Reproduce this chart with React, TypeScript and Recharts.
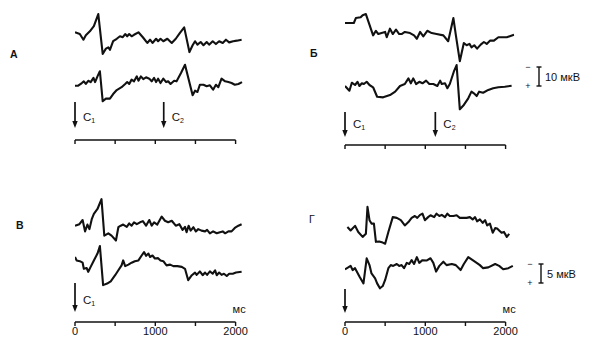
import { LineChart, Line, XAxis, YAxis, ReferenceLine } from "recharts";

// traces: [time, мс ; amplitude, мкВ (up = +)]
const traceATop: [number, number][] = [
  [0, 0], [60, -0.9], [105, -3.9], [135, -1.6], [185, 0.5], [235, 3.2], [290, 9.6], [345, -11.4],
  [385, -8.6], [415, -7.9], [435, -9.2], [475, -4.7], [520, -3.4], [560, -2.1], [595, -2.6], [625, -0.9],
  [650, -2.1], [675, -0.9], [705, -2.1], [735, -1.3], [790, 0], [845, -2.6], [900, -5.6], [935, -3.9],
  [965, -5.6], [1010, -3.4], [1035, -4.7], [1065, -3.4], [1100, -4.7], [1150, -3.4], [1205, -5.6],
  [1255, -3.4], [1305, -0.4], [1360, 2.6], [1425, -10.4], [1465, -6.8], [1495, -4.7], [1525, -6.5],
  [1565, -5.1], [1600, -6.8], [1640, -5.1], [1670, -6.5], [1715, -4.7], [1755, -6.2], [1795, -4.7],
  [1840, -5.6], [1880, -3.9], [1920, -5.3], [1970, -4.7], [2015, -4.4], [2075, -3.9],
];
const traceABot: [number, number][] = [
  [0, 0], [40, 0], [85, 1.4], [110, 2.3], [135, 0.9], [165, 2.6], [195, 1.9], [230, 4.1], [250, 1.9],
  [280, 4.9], [310, 7.6], [345, -8.2], [385, -6.8], [435, -6.8], [475, -4.4], [520, -2.3], [580, -0.8],
  [625, 0.9], [650, 1.9], [675, 0.9], [705, 3.2], [735, 2.3], [770, 4.9], [790, 2.6], [820, 4.9],
  [850, 3.5], [885, 4.4], [925, 3.7], [955, 2.3], [985, 4.1], [1010, 1.9], [1035, 3.7], [1065, 1.4],
  [1100, 3.7], [1135, 1.9], [1160, 2.3], [1190, 0.9], [1235, 2.6], [1265, 2.3], [1320, 6.7], [1370, 11],
  [1465, -5], [1495, -2.6], [1525, -3.3], [1555, 0.5], [1600, 0.5], [1640, -0.3], [1680, 0.2],
  [1720, -2.1], [1755, 0.5], [1785, -0.8], [1825, 3.7], [1870, 2.3], [1910, 1.9], [1950, 1.4],
  [1990, 0.5], [2035, 0.9], [2080, 1.9],
];
const traceBTop: [number, number][] = [
  [0, 0], [110, 0], [135, 2.6], [195, 3], [220, 4.1], [260, 4.7], [350, -6.5], [385, -4.1], [415, -5.8],
  [455, -5.3], [500, -4.7], [520, -7.5], [560, -3], [595, -5.8], [635, -3.5], [675, -5.8], [705, -5.8],
  [745, -4.7], [810, -5.3], [860, -6.5], [895, -8.3], [935, -4.7], [975, -7], [1025, -4.1], [1080, -5.3],
  [1140, -5.8], [1225, -6.5], [1285, -9.6], [1350, 2.6], [1380, -6.2], [1430, -20.1], [1480, -10.5],
  [1515, -11.7], [1550, -11], [1575, -12.8], [1610, -11.7], [1645, -13.5], [1690, -11.4], [1730, -10],
  [1765, -11], [1805, -9.3], [1855, -9.3], [1910, -7.5], [2015, -7.5], [2105, -6.2],
];
const traceBBot: [number, number][] = [
  [0, -0.5], [55, -3], [85, 1.2], [125, 0], [155, 1.7], [180, -0.5], [210, 0.9], [235, 0.5], [270, 1.7],
  [305, 0], [350, -1.2], [400, -6.2], [475, -6.5], [560, -5.3], [625, -3.5], [685, -0.5], [745, 0.5],
  [790, 3.5], [820, 0.9], [850, 3.5], [885, 0.5], [925, 1.7], [965, 0.9], [1010, 2.3], [1050, 0.5],
  [1100, 0.5], [1150, -0.5], [1185, 2.3], [1205, 0.5], [1245, 0.9], [1275, -1.7], [1305, 0.5],
  [1355, 7], [1390, 10.5], [1430, -12.8], [1480, -10.5], [1535, -7], [1575, -3.5], [1605, -4.4],
  [1640, -5.8], [1670, -3.5], [1720, -4.1], [1785, -2.6], [1845, -1.7], [1910, -1.2], [1990, -0.9],
  [2075, -0.4],
];
const traceVTop: [number, number][] = [
  [0, 0], [55, 0.4], [95, 1.5], [125, -1.5], [155, 0.3], [180, -0.9], [210, 1.8], [235, 3.1], [280, 4.4],
  [330, 7], [365, -2.6], [415, -2], [455, -2.6], [510, -3.9], [540, -0.4], [570, 0], [600, 0.3],
  [645, -0.3], [675, 0.6], [705, 0], [735, 0.9], [770, 0.4], [810, 0.9], [845, 1.2], [885, 0], [925, 1.5],
  [955, 0], [985, 0.9], [1025, 0.3], [1080, 2.4], [1120, 1.3], [1160, 0.9], [1205, 1.3], [1255, 0],
  [1300, 0.4], [1340, -1.1], [1370, -0.3], [1390, -1.7], [1415, 0], [1440, -1.3], [1475, -0.4],
  [1505, -1.5], [1535, -0.9], [1575, -1.3], [1620, -1.5], [1645, -1.1], [1680, -2], [1720, -1.5],
  [1765, -2], [1805, -1.7], [1840, -1.5], [1870, -2], [1910, -1.5], [1950, -1.5], [1990, -0.6],
  [2035, 0], [2075, 0.4],
];
const traceVBot: [number, number][] = [
  [0, 0], [20, -0.9], [60, -1.1], [95, -1.5], [110, -3.1], [145, -2.9], [165, -3.9], [195, -2.6],
  [235, -0.9], [280, 0.9], [310, 2.9], [350, -7.4], [400, -7], [445, -6.4], [500, -4.8], [540, -3.5],
  [580, -2.2], [600, -0.9], [625, -2.4], [665, -2], [705, -1.5], [745, -1.1], [790, -0.9], [830, 0.4],
  [860, 1.3], [885, 0.3], [915, 0.9], [935, 0], [965, 0.4], [995, -0.4], [1035, -0.3], [1065, -0.9],
  [1100, -1.1], [1140, -2.2], [1185, -2], [1225, -2.4], [1275, -2.4], [1330, -2.6], [1370, -3.1],
  [1410, -6.1], [1455, -4.8], [1495, -4.1], [1515, -4.7], [1555, -3.8], [1590, -4.8], [1620, -4.1],
  [1645, -4.7], [1680, -3.8], [1715, -4.4], [1745, -3.5], [1765, -4.8], [1795, -4.1], [1825, -4.7],
  [1855, -4.4], [1890, -5], [1920, -4.4], [1965, -4.4], [2005, -4.1], [2075, -3.9],
];
const traceGTop: [number, number][] = [
  [30, 0], [70, -0.9], [125, 0.3], [165, -1.3], [220, -2.6], [260, -1.8], [280, 5.3], [305, 1.8],
  [330, 0.9], [360, 0.9], [385, -3.9], [425, -3.8], [470, -4.1], [500, -4.4], [540, -1.3], [595, 2.6],
  [645, 2.4], [695, 1.8], [745, 0.4], [790, 1.3], [830, 2.4], [870, 2.9], [900, 2.4], [935, 3.2],
  [965, 3.5], [995, 1.8], [1035, 2.6], [1065, 3.1], [1110, 2.6], [1140, 3.5], [1175, 2.9], [1205, 3.2],
  [1245, 2.6], [1275, 3.5], [1305, 2.9], [1350, 2.9], [1390, 3.1], [1430, 2.4], [1475, 2.4], [1515, 2.4],
  [1555, 2.6], [1590, 2], [1620, 2.6], [1645, 1.5], [1680, 2], [1715, 1.1], [1745, 1.8], [1770, 0.4],
  [1805, 0.9], [1840, -1.5], [1870, -0.3], [1895, -0.4], [1920, -0.9], [1950, -1.5], [1980, -1.3],
  [2015, -2.6], [2045, -1.8],
];
const traceGBot: [number, number][] = [
  [0, 0], [40, 0.5], [70, 0.9], [95, -0.2], [125, 0.3], [155, -0.9], [185, -2.1], [230, -3.7], [270, 2.9],
  [305, 1.1], [330, -1.1], [375, -2.4], [400, -3.7], [435, -5], [470, -4.4], [500, -2.8], [540, 0.3],
  [570, 1.1], [600, 0.9], [645, 1.4], [675, 0.9], [705, 1.1], [735, 0.3], [770, 1.7], [800, 1.4],
  [830, 2.4], [860, 1.4], [895, 3.2], [925, 1.7], [965, 2.4], [1015, 2.3], [1065, 2.9], [1100, 1.7],
  [1135, -0.6], [1175, 0.9], [1225, 2], [1265, 1.1], [1330, 1.4], [1380, 1.1], [1440, -0.2], [1480, 1.4],
  [1535, 3.2], [1590, 2.4], [1640, 1.7], [1680, 1.1], [1720, 0.3], [1785, 0.5], [1870, 1.4], [1920, 0.9],
  [1970, 0], [2035, 0.3], [2090, 0.9],
];

const tickTimes = [0, 500, 1000, 1500, 2000];
const labelledTicks = [0, 1000, 2000];
const stimA = [0, 1105];
const stimB = [0, 1125];
const stimV = [0];
const stimG = [0];
const stimNames = ["1", "2"];
const scaleA = 10; // мкВ
const scaleV = 5; // мкВ

const FONT = '"Liberation Sans", Arial, Helvetica, sans-serif';
const INK = "#111";
const MS_PX = 0.0803;
const T_MAX = 2110;

const rows = (tr: [number, number][]) => tr.map(([t, v]) => ({ t, v }));

type PanelProps = {
  x0: number; top: number; axisY: number; k: number; yUp: number; yLo: number;
  upper: [number, number][]; lower: [number, number][];
  stim: number[]; named: boolean; arrow: [number, number]; labelDy: number; numbered: boolean;
};

function Panel(p: PanelProps) {
  const ML = 10, MR = 10, MT = 4;
  const axisH = p.numbered ? 20 : 8;
  const width = ML + MR + T_MAX * MS_PX;
  const height = p.axisY - p.top + axisH;
  const T = p.top + MT;
  const dom = (yb: number): [number, number] => [-(p.axisY - yb) / p.k, (yb - T) / p.k];
  const lo = dom(p.yLo);

  const arrowShape = (i: number) => (s: any) => {
    const x = s.x1;
    const yb = Math.max(s.y1, s.y2);
    const tail = yb - p.arrow[0];
    const tip = yb - p.arrow[1];
    return (
      <g>
        <line x1={x} y1={tail} x2={x} y2={tip - 5} stroke={INK} strokeWidth={1.7} />
        <polygon points={`${x - 2.7},${tip - 7} ${x + 2.7},${tip - 7} ${x},${tip}`} fill={INK} />
        {p.named && (
          <text x={x + 8} y={tip - p.labelDy} fontSize={11.5} fontFamily={FONT} fill={INK}>
            С<tspan fontSize={7} dy={2.5}>{stimNames[i]}</tspan>
          </text>
        )}
      </g>
    );
  };

  return (
    <div style={{ position: "absolute", left: p.x0 - ML, top: p.top }}>
      <LineChart width={width} height={height} margin={{ top: MT, right: MR, left: ML, bottom: 0 }}>
        <XAxis
          dataKey="t" type="number" domain={[0, T_MAX]} allowDataOverflow ticks={tickTimes} interval={0}
          axisLine={false} tickSize={4} tickMargin={1} height={axisH}
          tickLine={{ stroke: INK, strokeWidth: 1.4 }}
          tick={{ fontSize: 11, fill: INK, fontFamily: FONT }}
          tickFormatter={(v: number) => (p.numbered && labelledTicks.includes(v) ? String(v) : "")}
        />
        <YAxis yAxisId="up" hide type="number" domain={dom(p.yUp)} allowDataOverflow />
        <YAxis yAxisId="lo" hide type="number" domain={lo} allowDataOverflow />
        <ReferenceLine
          yAxisId="lo" segment={[{ x: 0, y: lo[0] }, { x: 2000, y: lo[0] }]}
          stroke={INK} strokeWidth={1.7}
        />
        <Line data={rows(p.upper)} dataKey="v" yAxisId="up" type="linear" dot={false}
          stroke={INK} strokeWidth={2.1} strokeLinejoin="round" isAnimationActive={false} />
        <Line data={rows(p.lower)} dataKey="v" yAxisId="lo" type="linear" dot={false}
          stroke={INK} strokeWidth={2.1} strokeLinejoin="round" isAnimationActive={false} />
        {p.stim.map((t, i) => (
          <ReferenceLine key={i} x={t} yAxisId="lo" shape={arrowShape(i)} />
        ))}
      </LineChart>
    </div>
  );
}

function ScaleBar({ x, yTop, h, label }: { x: number; yTop: number; h: number; label: string }) {
  return (
    <g>
      <line x1={x} y1={yTop} x2={x} y2={yTop + h} stroke={INK} strokeWidth={1.4} />
      <line x1={x - 2.5} y1={yTop} x2={x + 2.5} y2={yTop} stroke={INK} strokeWidth={1.4} />
      <line x1={x - 2.5} y1={yTop + h} x2={x + 2.5} y2={yTop + h} stroke={INK} strokeWidth={1.4} />
      <text x={x - 11} y={yTop + 3} fontSize={9} textAnchor="middle" fontFamily={FONT} fill={INK}>−</text>
      <text x={x - 11} y={yTop + h + 3} fontSize={9} textAnchor="middle" fontFamily={FONT} fill={INK}>+</text>
      <text x={x + 6} y={yTop + h / 2 + 4} fontSize={11} fontFamily={FONT} fill={INK}>{label}</text>
    </g>
  );
}

export default function App() {
  const kA = 1.9;
  const kV = 3.8;
  const letter = { fontFamily: FONT, fill: INK, fontSize: 10.5, fontWeight: 700 } as const;
  return (
    <div style={{ position: "absolute", left: 0, top: 0, width: 600, height: 352, background: "#fff", overflow: "hidden" }}>
      <Panel x0={75} top={0} axisY={140} k={kA} yUp={32.3} yLo={85.7} upper={traceATop} lower={traceABot}
        stim={stimA} named arrow={[38, 12]} labelDy={7} numbered={false} />
      <Panel x0={345} top={0} axisY={145} k={kA} yUp={23} yLo={85} upper={traceBTop} lower={traceBBot}
        stim={stimB} named arrow={[33, 8]} labelDy={9} numbered={false} />
      <Panel x0={75} top={185} axisY={322} k={kV} yUp={225.7} yLo={257} upper={traceVTop} lower={traceVBot}
        stim={stimV} named arrow={[39, 10]} labelDy={8} numbered />
      <Panel x0={345} top={185} axisY={322} k={kV} yUp={227} yLo={269.3} upper={traceGTop} lower={traceGBot}
        stim={stimG} named={false} arrow={[33, 9]} labelDy={8} numbered />
      <svg width={600} height={352} style={{ position: "absolute", left: 0, top: 0, pointerEvents: "none" }}>
        <text x={10} y={58} {...letter}>А</text>
        <text x={310} y={57} {...letter}>Б</text>
        <text x={16} y={229} {...letter}>В</text>
        <text x={309} y={223} {...letter} fontWeight={400}>Г</text>
        <ScaleBar x={539} yTop={67} h={scaleA * kA} label={`${scaleA} мкВ`} />
        <ScaleBar x={541} yTop={264} h={scaleV * kV} label={`${scaleV} мкВ`} />
        <text x={75 + 2000 * MS_PX - 3} y={313} fontSize={11} fontFamily={FONT} fill={INK}>мс</text>
        <text x={345 + 2000 * MS_PX - 3} y={313} fontSize={11} fontFamily={FONT} fill={INK}>мс</text>
      </svg>
    </div>
  );
}
